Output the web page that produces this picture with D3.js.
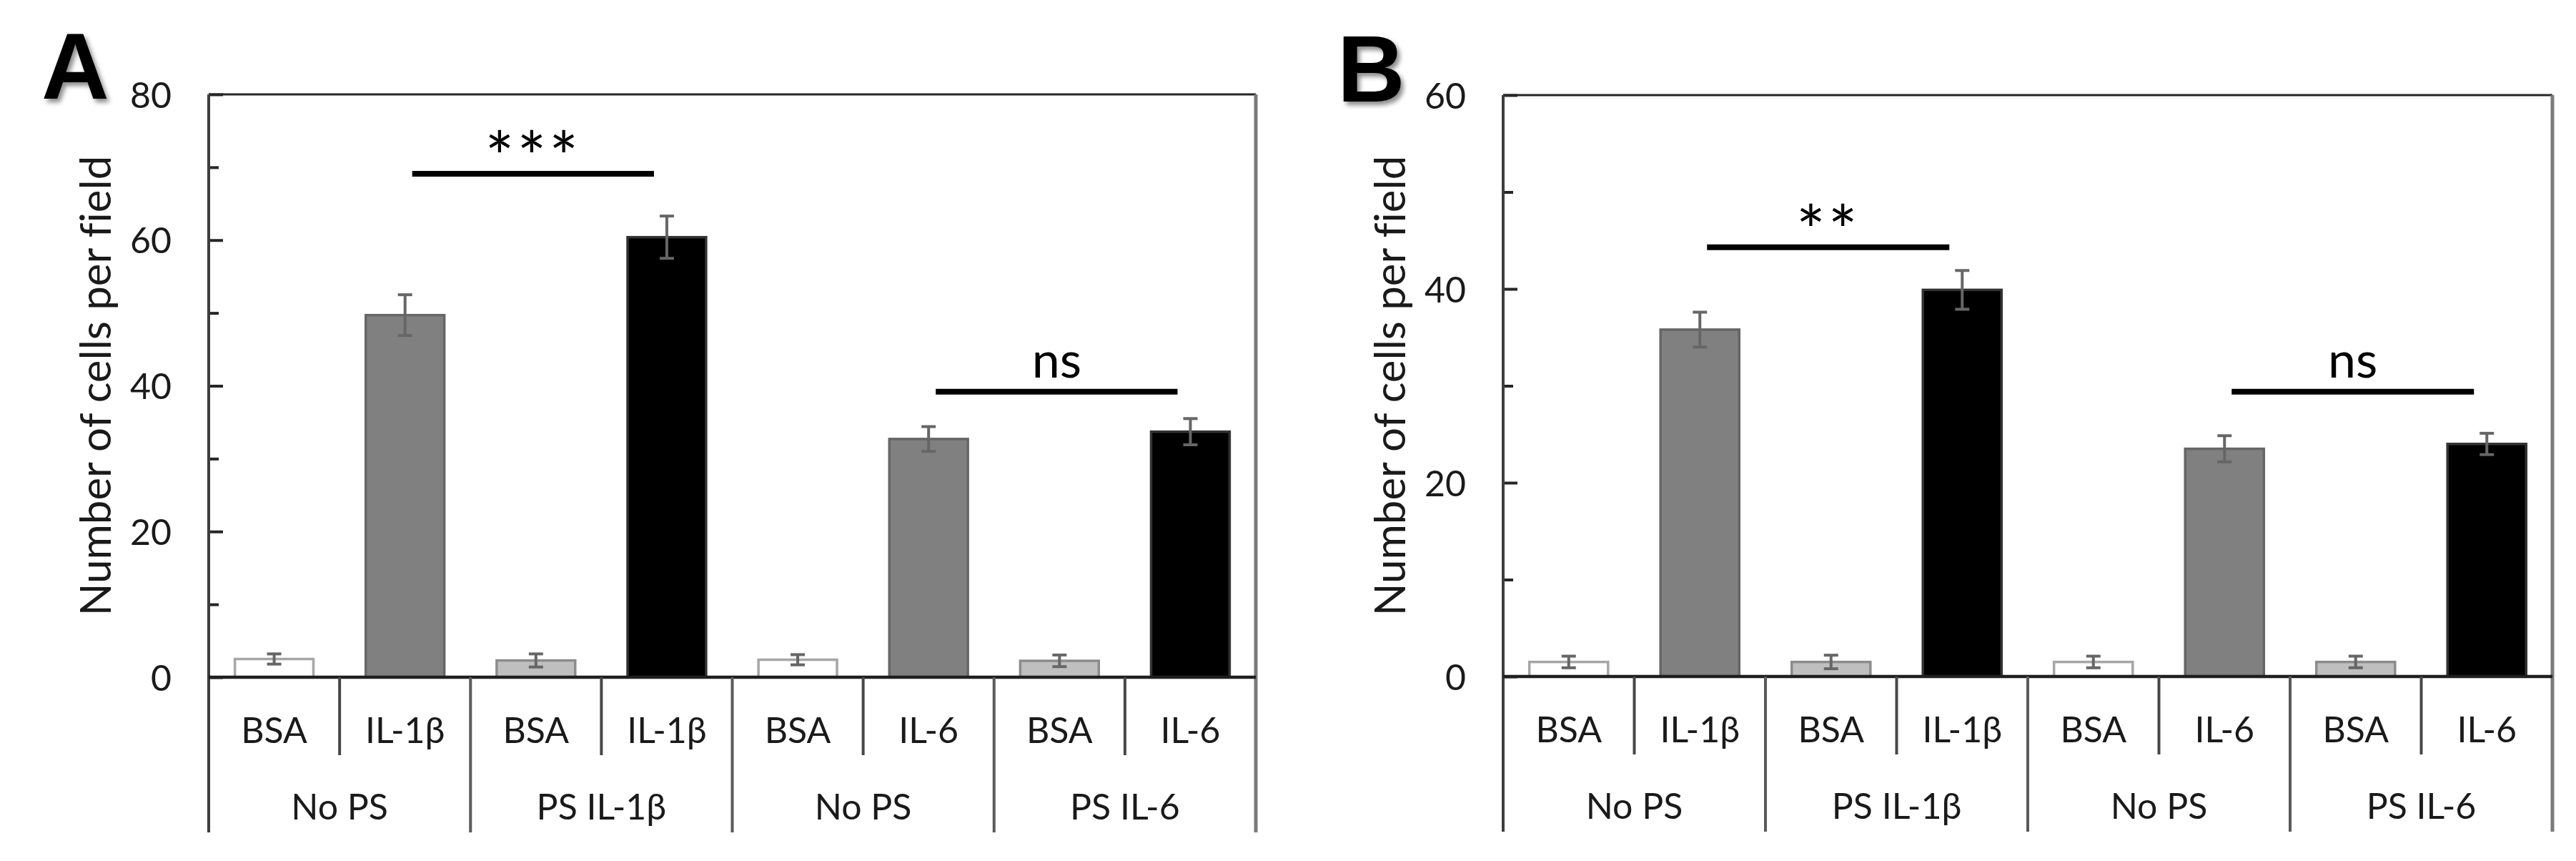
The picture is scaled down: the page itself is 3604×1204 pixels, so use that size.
<!DOCTYPE html>
<html>
<head>
<meta charset="utf-8">
<script src="https://cdn.jsdelivr.net/npm/d3@7/dist/d3.min.js"></script>
<style>
  html, body { margin: 0; padding: 0; background: #fff; }
  svg { display: block; }
  text { font-family: Lato, "Open Sans", "Noto Sans", sans-serif; fill: #1a1a1a; font-variant-ligatures: none; font-feature-settings: "liga" 0, "clig" 0; }
</style>
</head>
<body>
<svg id="chart" width="3604" height="1204"></svg>
<script>
// ---------------- data ----------------
const categories = ["BSA", "IL-1β", "BSA", "IL-1β", "BSA", "IL-6", "BSA", "IL-6"];
const groups = ["No PS", "PS IL-1β", "No PS", "PS IL-6"];
const barKinds = ["white", "mid", "light", "black", "white", "mid", "light", "black"];

const valuesA = [2.5, 49.7, 2.3, 60.4, 2.4, 32.7, 2.25, 33.7];
const errorsA = [0.7, 2.8, 0.9, 2.9, 0.7, 1.7, 0.8, 1.8];
const valuesB = [1.5, 35.8, 1.5, 39.9, 1.5, 23.5, 1.5, 24.0];
const errorsB = [0.6, 1.8, 0.7, 2.0, 0.6, 1.35, 0.6, 1.1];

const yTicksA = [0, 20, 40, 60, 80];
const yMinorA = [10, 30, 50, 70];
const yTicksB = [0, 20, 40, 60];
const yMinorB = [10, 30, 50];

// significance brackets: [from bar, to bar, level, label]
const sigA = [[1, 3, 69.1, "***"], [5, 7, 39.2, "ns"]];
const sigB = [[1, 3, 44.3, "**"], [5, 7, 29.4, "ns"]];

const yLabel = "Number of cells per field";

// ---------------- styles ----------------
const fillOf = { white: "#ffffff", mid: "#808080", light: "#bfbfbf", black: "#000000" };
const strokeOf = { white: "#a6a6a6", mid: "#666666", light: "#8c8c8c", black: "#333333" };

const svg = d3.select("#chart");
const defs = svg.append("defs");
const f = defs.append("filter").attr("id", "shadow").attr("x", "-20%").attr("y", "-20%").attr("width", "150%").attr("height", "150%");
f.append("feDropShadow").attr("dx", 4).attr("dy", 5).attr("stdDeviation", 3)
  .attr("flood-color", "#000").attr("flood-opacity", 0.45);

const panels = [
  { letter: "A", lx: 58, ly: 138, left: 292, right: 1757, top: 132, bottom: 947,
    ymax: 80, ticks: yTicksA, minor: yMinorA, values: valuesA, errors: errorsA, sig: sigA },
  { letter: "B", lx: 1871, ly: 142, left: 2103, right: 3571, top: 133, bottom: 946,
    ymax: 60, ticks: yTicksB, minor: yMinorB, values: valuesB, errors: errorsB, sig: sigB }
];

panels.forEach(p => {
  const g = svg.append("g");
  const x = d3.scaleBand().domain(d3.range(categories.length))
    .range([p.left, p.right]).paddingInner(0.4).paddingOuter(0.2);
  const xg = d3.scaleBand().domain(d3.range(groups.length)).range([p.left, p.right]);
  const y = d3.scaleLinear().domain([0, p.ymax]).range([p.bottom, p.top]);
  const step = x.step();
  const catBottom = p.bottom + 109;
  const grpBottom = p.bottom + 217;

  // panel letter
  g.append("text").attr("x", p.lx).attr("y", p.ly)
    .style("font-family", "'Liberation Sans', Arial, sans-serif")
    .attr("font-weight", "bold").attr("font-size", 131)
    .attr("filter", "url(#shadow)").style("fill", "#000")
    .text(p.letter);

  // bars
  g.selectAll("rect.bar").data(p.values).join("rect").attr("class", "bar")
    .attr("x", (d, i) => x(i)).attr("width", x.bandwidth())
    .attr("y", d => y(d)).attr("height", d => y(0) - y(d))
    .attr("fill", (d, i) => fillOf[barKinds[i]])
    .attr("stroke", (d, i) => strokeOf[barKinds[i]])
    .attr("stroke-width", 3.5);

  // error bars
  const eb = g.selectAll("g.err").data(p.values).join("g").attr("class", "err")
    .attr("stroke", "#666").attr("stroke-width", 4);
  eb.append("line")
    .attr("x1", (d, i) => x(i) + x.bandwidth() / 2).attr("x2", (d, i) => x(i) + x.bandwidth() / 2)
    .attr("y1", (d, i) => y(d + p.errors[i])).attr("y2", (d, i) => y(d - p.errors[i]));
  [1, -1].forEach(s => {
    eb.append("line")
      .attr("x1", (d, i) => x(i) + x.bandwidth() / 2 - 10).attr("x2", (d, i) => x(i) + x.bandwidth() / 2 + 10)
      .attr("y1", (d, i) => y(d + s * p.errors[i])).attr("y2", (d, i) => y(d + s * p.errors[i]));
  });

  // y axis: major ticks inward with labels
  const yAxis = d3.axisLeft(y).tickValues(p.ticks).tickSizeInner(-20).tickSizeOuter(0)
    .tickPadding(52).tickFormat(d3.format("d"));
  const ya = g.append("g").attr("transform", `translate(${p.left},0)`).call(yAxis);
  ya.select(".domain").remove();
  ya.selectAll(".tick line").attr("stroke", "#262626").attr("stroke-width", 4);
  ya.selectAll(".tick text").attr("font-size", 50).attr("dy", "0.36em")
    .style("font-family", "Lato, 'Open Sans', sans-serif").style("fill", "#1a1a1a");
  const yMinor = d3.axisLeft(y).tickValues(p.minor).tickSizeInner(-14).tickSizeOuter(0).tickFormat("");
  const ym = g.append("g").attr("transform", `translate(${p.left},0)`).call(yMinor);
  ym.select(".domain").remove();
  ym.selectAll(".tick line").attr("stroke", "#262626").attr("stroke-width", 4);

  // frame
  g.append("line").attr("x1", p.left).attr("x2", p.right).attr("y1", p.top).attr("y2", p.top)
    .attr("stroke", "#262626").attr("stroke-width", 3);
  g.append("line").attr("x1", p.right).attr("x2", p.right).attr("y1", p.top).attr("y2", grpBottom)
    .attr("stroke", "#7a7a7a").attr("stroke-width", 5);
  g.append("line").attr("x1", p.left).attr("x2", p.left).attr("y1", p.top).attr("y2", grpBottom)
    .attr("stroke", "#3d3d3d").attr("stroke-width", 4);
  g.append("line").attr("x1", p.left).attr("x2", p.right).attr("y1", y(0)).attr("y2", y(0))
    .attr("stroke", "#1f1f1f").attr("stroke-width", 4.5);

  // category dividers (short) and group dividers (long)
  g.selectAll("line.catdiv").data(d3.range(categories.length).filter(i => i % 2 === 1))
    .join("line").attr("class", "catdiv")
    .attr("x1", i => x(i) - (step - x.bandwidth()) / 2).attr("x2", i => x(i) - (step - x.bandwidth()) / 2)
    .attr("y1", y(0)).attr("y2", catBottom)
    .attr("stroke", "#474747").attr("stroke-width", 4);
  g.selectAll("line.grpdiv").data(d3.range(1, groups.length))
    .join("line").attr("class", "grpdiv")
    .attr("x1", i => xg(i)).attr("x2", i => xg(i))
    .attr("y1", y(0)).attr("y2", grpBottom)
    .attr("stroke", "#5a5a5a").attr("stroke-width", 4);

  // category labels
  g.selectAll("text.cat").data(categories).join("text").attr("class", "cat")
    .attr("x", (d, i) => x(i) + x.bandwidth() / 2).attr("y", p.bottom + 74)
    .attr("dy", "0.36em").attr("text-anchor", "middle").attr("font-size", 50)
    .text(d => d);
  // group labels
  g.selectAll("text.grp").data(groups).join("text").attr("class", "grp")
    .attr("x", (d, i) => xg(i) + xg.bandwidth() / 2).attr("y", p.bottom + 181)
    .attr("dy", "0.36em").attr("text-anchor", "middle").attr("font-size", 50)
    .text(d => d);

  // y label
  g.append("text")
    .attr("transform", `translate(${p.left - 137},${(p.top + p.bottom) / 2}) rotate(-90)`)
    .attr("text-anchor", "middle").attr("font-size", 60)
    .text(yLabel);

  // significance
  p.sig.forEach(([a, b, lvl, lab]) => {
    const x1 = x(a) + x.bandwidth() / 2 + 10;
    const x2 = x(b) + x.bandwidth() / 2 - 18;
    g.append("line").attr("x1", x1).attr("x2", x2).attr("y1", y(lvl)).attr("y2", y(lvl))
      .attr("stroke", "#000").attr("stroke-width", 8);
    const isStar = lab.indexOf("*") >= 0;
    g.append("text").attr("x", (x1 + x2) / 2)
      .attr("y", y(lvl) - (isStar ? -12 : 20))
      .attr("text-anchor", "middle").attr("font-size", isStar ? 96 : 70)
      .attr("letter-spacing", isStar ? 4 : 0)
      .style("fill", "#000")
      .text(lab);
  });
});
</script>
</body>
</html>
